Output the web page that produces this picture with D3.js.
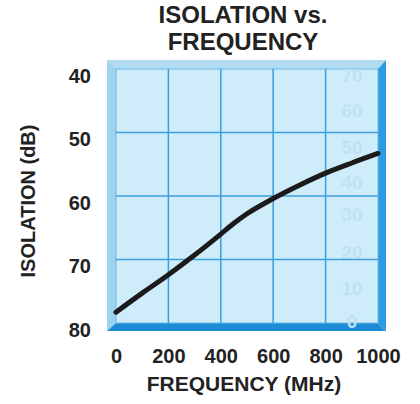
<!DOCTYPE html>
<html>
<head>
<meta charset="utf-8">
<script src="https://cdn.jsdelivr.net/npm/d3@7"></script>
<style>
  body { margin: 0; background: #fff; }
  text { font-family: "Liberation Sans", Arial, sans-serif; font-weight: bold; fill: #222; }
</style>
</head>
<body>
<div id="chart"></div>
<script>
// data
const freqMHz   = [0, 100, 200, 300, 400, 450, 500, 600, 700, 800, 900, 1000];
const isolation = [78.3, 75.3, 72.4, 69.3, 66.0, 64.3, 62.8, 60.4, 58.3, 56.4, 54.8, 53.3];
const xTicks = [0, 200, 400, 600, 800, 1000];
const yTicks = [40, 50, 60, 70, 80];
// faint show-through numbers from the back of the page
const ghostLabels = ["70", "60", "50", "40", "30", "20", "10", "0"];
const ghostY      = [75, 110, 147, 182, 214, 252, 288, 321];

const width = 420, height = 404;
const bevel = { left: 9, top: 9, right: 8, bottom: 8 };

const svg = d3.select("#chart").append("svg")
  .attr("width", width)
  .attr("height", height);

const x = d3.scaleLinear().domain([0, 1000]).range([116, 378]);
const y = d3.scaleLinear().domain([40, 80]).range([69, 323]);

const [x0, x1] = x.range();
const [y0, y1] = y.range();
const ox0 = x0 - bevel.left, ox1 = x1 + bevel.right;
const oy0 = y0 - bevel.top,  oy1 = y1 + bevel.bottom;

// bevelled frame
const frame = svg.append("g");
const faces = [
  { pts: [[ox0, oy0], [ox1, oy0], [x1, y0], [x0, y0]], fill: "#b3dcf2" }, // top
  { pts: [[ox0, oy0], [x0, y0], [x0, y1], [ox0, oy1]], fill: "#9fd2ef" }, // left
  { pts: [[ox1, oy0], [ox1, oy1], [x1, y1], [x1, y0]], fill: "#2a9ce2" }, // right
  { pts: [[ox0, oy1], [x0, y1], [x1, y1], [ox1, oy1]], fill: "#1d8cd7" }  // bottom
];
frame.selectAll("polygon")
  .data(faces)
  .enter()
  .append("polygon")
  .attr("points", d => d.pts.map(p => p.join(",")).join(" "))
  .attr("fill", d => d.fill);

frame.append("rect")
  .attr("x", x0).attr("y", y0)
  .attr("width", x1 - x0).attr("height", y1 - y0)
  .attr("fill", "#cfecfa")
  .attr("stroke", "#6bb8e4")
  .attr("stroke-width", 1);

// ghost numbers
svg.append("g").selectAll("text")
  .data(ghostLabels)
  .enter()
  .append("text")
  .attr("x", 352)
  .attr("y", (d, i) => ghostY[i])
  .attr("dy", "0.35em")
  .attr("text-anchor", "middle")
  .attr("font-size", 19)
  .style("fill", "#bfe1f4")
  .text(d => d);

// grid
const grid = svg.append("g")
  .attr("stroke", "#3b9fdd")
  .attr("stroke-width", 1.5);

grid.selectAll(".vg")
  .data(xTicks.slice(1, -1))
  .enter()
  .append("line")
  .attr("x1", d => x(d)).attr("x2", d => x(d))
  .attr("y1", y0).attr("y2", y1);

grid.selectAll(".hg")
  .data(yTicks.slice(1, -1))
  .enter()
  .append("line")
  .attr("x1", x0).attr("x2", x1)
  .attr("y1", d => y(d)).attr("y2", d => y(d));

// curve
const line = d3.line()
  .x(d => x(d[0]))
  .y(d => y(d[1]))
  .curve(d3.curveMonotoneX);

svg.append("path")
  .datum(d3.zip(freqMHz, isolation))
  .attr("fill", "none")
  .attr("stroke", "#1b1b1b")
  .attr("stroke-width", 5)
  .attr("stroke-linecap", "round")
  .attr("d", line);

// axes (labels only)
const xAxis = svg.append("g")
  .attr("transform", `translate(0,${oy1 + 32})`)
  .call(d3.axisBottom(x).tickValues(xTicks).tickFormat(d3.format("d")).tickSize(0).tickPadding(0));
xAxis.select(".domain").remove();
xAxis.selectAll("text")
  .attr("font-size", 20)
  .attr("dy", 0)
  .style("font-family", "'Liberation Sans', Arial, sans-serif")
  .style("fill", "#222");

const yAxis = svg.append("g")
  .attr("transform", "translate(91,7)")
  .call(d3.axisLeft(y).tickValues(yTicks).tickSize(0).tickPadding(0));
yAxis.select(".domain").remove();
yAxis.selectAll("text")
  .attr("font-size", 20)
  .style("font-family", "'Liberation Sans', Arial, sans-serif")
  .style("fill", "#222");

// titles
svg.append("text")
  .attr("x", 243).attr("y", 23)
  .attr("text-anchor", "middle")
  .attr("font-size", 24)
  .text("ISOLATION vs.");
svg.append("text")
  .attr("x", 243).attr("y", 50)
  .attr("text-anchor", "middle")
  .attr("font-size", 24)
  .text("FREQUENCY");

svg.append("text")
  .attr("x", 244).attr("y", 391)
  .attr("text-anchor", "middle")
  .attr("font-size", 21)
  .text("FREQUENCY (MHz)");

svg.append("text")
  .attr("transform", "translate(35,201) rotate(-90)")
  .attr("text-anchor", "middle")
  .attr("font-size", 20)
  .text("ISOLATION (dB)");
</script>
</body>
</html>
